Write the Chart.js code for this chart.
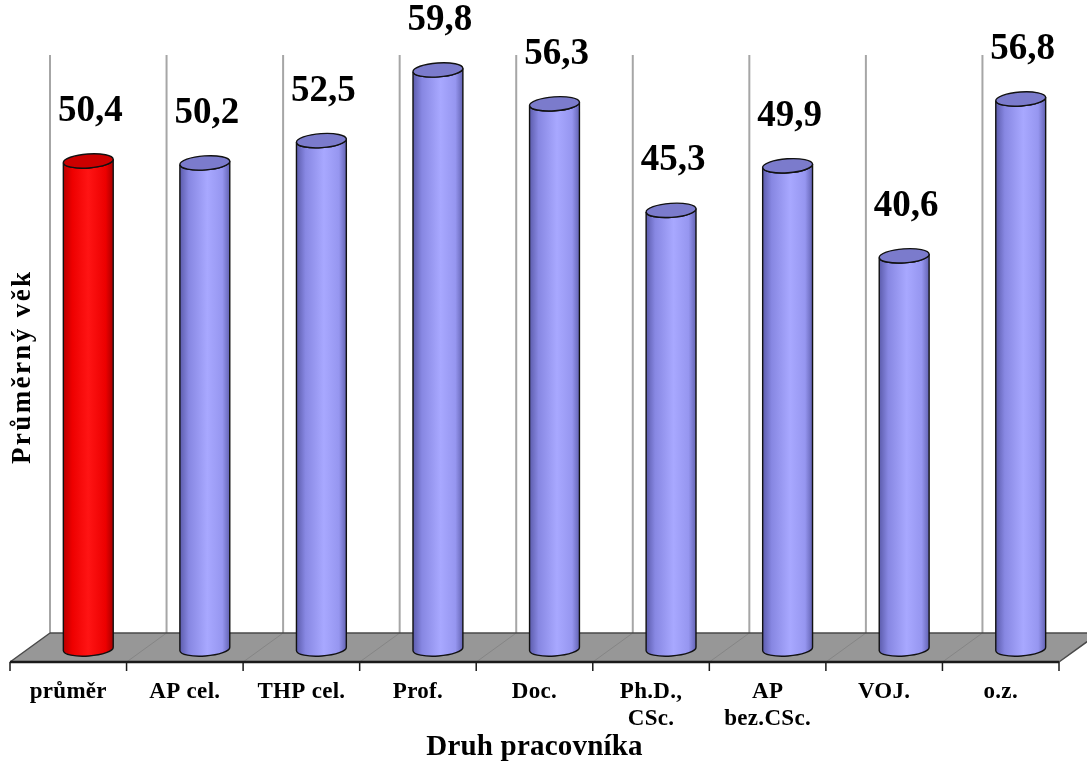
<!DOCTYPE html>
<html>
<head>
<meta charset="utf-8">
<script src="https://cdn.jsdelivr.net/npm/chart.js@4.4.1/dist/chart.umd.min.js"></script>
<style>
  html, body { margin: 0; padding: 0; background: #ffffff; }
  canvas { display: block; }
</style>
</head>
<body>
<canvas id="chart" width="1087" height="762"></canvas>
<script>
// Average age by staff category
const categories = ['průměr', 'AP cel.', 'THP cel.', 'Prof.', 'Doc.', ['Ph.D.,', 'CSc.'], ['AP', 'bez.CSc.'], 'VOJ.', 'o.z.'];
const averageAge = [50.4, 50.2, 52.5, 59.8, 56.3, 45.3, 49.9, 40.6, 56.8];
const axisMin = 0;
const axisMax = 60;
const xTitle = 'Druh pracovníka';
const yTitle = 'Průměrný věk';

// 3D look: depth of the floor behind / in front of the bar plane
const DX = 20, D_BACK = 16, D_FRONT = 13;
const SERIF = '"Liberation Serif", "Times New Roman", serif';

function fmt(v) { return v.toFixed(1).replace('.', ','); }

function sideGradient(ctx, cx, rx, red) {
  const g = ctx.createLinearGradient(cx - rx, 0, cx + rx, 0);
  if (red) {
    g.addColorStop(0, '#b80000');
    g.addColorStop(0.18, '#ee0000');
    g.addColorStop(0.5, '#ff1414');
    g.addColorStop(0.85, '#ec0000');
    g.addColorStop(1, '#a80000');
  } else {
    g.addColorStop(0, '#5c5cac');
    g.addColorStop(0.18, '#8787e2');
    g.addColorStop(0.55, '#a8a8ff');
    g.addColorStop(0.85, '#9696f0');
    g.addColorStop(1, '#6262b2');
  }
  return g;
}

function drawCylinder(ctx, cx, top, base, rx, red) {
  const ry = 7, rot = -0.07;
  const c = Math.cos(rot), s = Math.sin(rot);
  ctx.beginPath();
  ctx.moveTo(cx - rx * c, top - rx * s);
  ctx.lineTo(cx - rx * c, base - rx * s);
  ctx.ellipse(cx, base, rx, ry, rot, Math.PI, 0, true);
  ctx.lineTo(cx + rx * c, top + rx * s);
  ctx.ellipse(cx, top, rx, ry, rot, 0, Math.PI, false);
  ctx.closePath();
  ctx.fillStyle = sideGradient(ctx, cx, rx, red);
  ctx.fill();
  ctx.lineWidth = 1.4;
  ctx.strokeStyle = '#111';
  ctx.stroke();

  ctx.beginPath();
  ctx.ellipse(cx, top, rx, ry, rot, 0, Math.PI * 2);
  ctx.fillStyle = red ? '#cc0000' : '#7b7bcc';
  ctx.fill();
  ctx.stroke();
}

const scene3d = {
  id: 'scene3d',
  beforeDatasetsDraw(chart) {
    const ctx = chart.ctx;
    const xs = chart.scales.x, ys = chart.scales.y;
    const n = categories.length;
    const catW = (xs.right - xs.left) / n;
    const base = ys.getPixelForValue(axisMin);
    const backY = base - D_BACK, frontY = base + D_FRONT;
    const wallTop = ys.getPixelForValue(axisMax) - 13;
    ctx.save();

    // back wall gridlines at category boundaries
    ctx.strokeStyle = '#a6a6a6';
    ctx.lineWidth = 2;
    for (let k = 0; k <= n; k++) {
      const bx = xs.getPixelForValue(0) - catW / 2 + k * catW + DX;
      ctx.beginPath();
      ctx.moveTo(bx, wallTop);
      ctx.lineTo(bx, backY);
      ctx.stroke();
    }

    // floor
    const l = xs.left, r = xs.right;
    ctx.beginPath();
    ctx.moveTo(l + DX, backY);
    ctx.lineTo(r + DX, backY);
    ctx.lineTo(r - DX, frontY);
    ctx.lineTo(l - DX, frontY);
    ctx.closePath();
    ctx.fillStyle = '#979797';
    ctx.fill();

    // floor division lines
    ctx.strokeStyle = '#858585';
    ctx.lineWidth = 1;
    for (let k = 1; k < n; k++) {
      const mx = l + k * catW;
      ctx.beginPath();
      ctx.moveTo(mx + DX, backY);
      ctx.lineTo(mx - DX, frontY);
      ctx.stroke();
    }

    // floor outline
    ctx.strokeStyle = '#4a4a4a';
    ctx.lineWidth = 1.5;
    ctx.beginPath();
    ctx.moveTo(l + DX, backY);
    ctx.lineTo(r + DX, backY);
    ctx.moveTo(l + DX, backY);
    ctx.lineTo(l - DX, frontY);
    ctx.moveTo(r + DX, backY);
    ctx.lineTo(r - DX, frontY);
    ctx.stroke();

    ctx.strokeStyle = '#1a1a1a';
    ctx.lineWidth = 2.5;
    ctx.beginPath();
    ctx.moveTo(l - DX, frontY);
    ctx.lineTo(r - DX, frontY);
    ctx.stroke();

    // tick marks on the front edge
    ctx.lineWidth = 1.5;
    for (let k = 0; k <= n; k++) {
      const tx = l + k * catW - DX;
      ctx.beginPath();
      ctx.moveTo(tx, frontY);
      ctx.lineTo(tx, frontY + 9);
      ctx.stroke();
    }
    ctx.restore();
  },
  afterDatasetsDraw(chart) {
    const ctx = chart.ctx;
    const meta = chart.getDatasetMeta(0);
    ctx.save();
    meta.data.forEach((bar, i) => {
      const p = bar.getProps(['x', 'y', 'base', 'width'], true);
      drawCylinder(ctx, p.x, p.y, p.base, p.width / 2, i === 0);
    });
    // value labels
    ctx.fillStyle = '#000';
    ctx.font = 'bold 37px ' + SERIF;
    ctx.textAlign = 'center';
    ctx.textBaseline = 'alphabetic';
    meta.data.forEach((bar, i) => {
      const p = bar.getProps(['x', 'y'], true);
      ctx.fillText(fmt(averageAge[i]), p.x + 2, p.y - 40);
    });
    ctx.restore();
  },
  afterDraw(chart) {
    const ctx = chart.ctx;
    const xs = chart.scales.x, ys = chart.scales.y;
    const frontY = ys.getPixelForValue(axisMin) + D_FRONT;
    ctx.save();
    ctx.fillStyle = '#000';
    ctx.textAlign = 'center';
    ctx.textBaseline = 'alphabetic';

    // category labels along the front edge
    ctx.font = 'bold 23px ' + SERIF;
    ctx.letterSpacing = '0.3px';
    categories.forEach((lab, i) => {
      const cx = xs.getPixelForValue(i) - DX;
      const lines = Array.isArray(lab) ? lab : [lab];
      lines.forEach((t, j) => ctx.fillText(t, cx, frontY + 36 + j * 27));
    });

    // axis titles
    ctx.font = 'bold 29px ' + SERIF;
    ctx.letterSpacing = '0.2px';
    ctx.fillText(xTitle, (xs.left + xs.right) / 2 - DX, 755);

    ctx.font = 'bold 27px ' + SERIF;
    ctx.letterSpacing = '2.4px';
    ctx.translate(30, 368);
    ctx.rotate(-Math.PI / 2);
    ctx.fillText(yTitle, 1.2, 0);
    ctx.restore();
  }
};

new Chart(document.getElementById('chart'), {
  type: 'bar',
  data: {
    labels: categories,
    datasets: [{
      data: averageAge,
      backgroundColor: 'rgba(0,0,0,0)',
      borderWidth: 0,
      barPercentage: 0.429,
      categoryPercentage: 1
    }]
  },
  options: {
    responsive: false,
    animation: false,
    devicePixelRatio: 1,
    layout: { padding: { left: 30, right: 8, top: 68, bottom: 113 } },
    plugins: { legend: { display: false }, tooltip: { enabled: false } },
    scales: {
      x: { display: false, offset: true },
      y: { display: false, min: axisMin, max: axisMax }
    }
  },
  plugins: [scene3d]
});
</script>
</body>
</html>
